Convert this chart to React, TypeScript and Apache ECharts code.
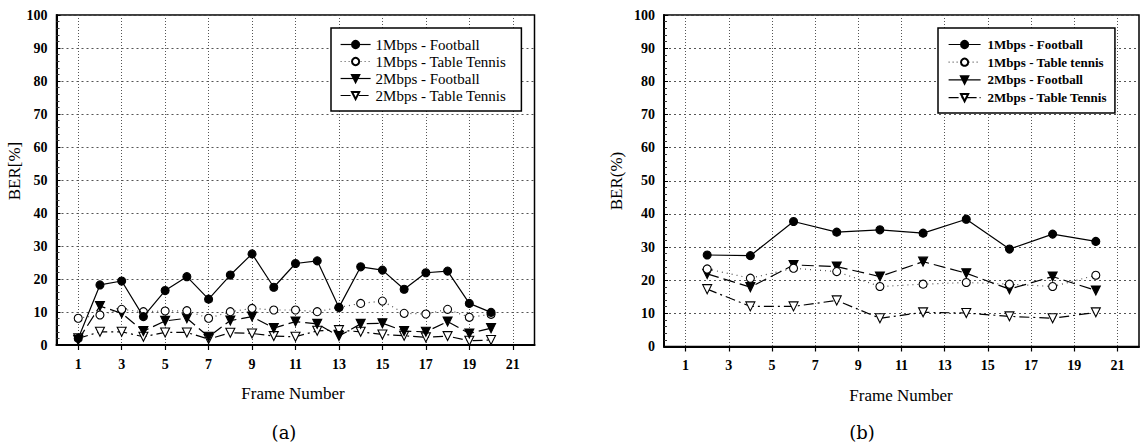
import React, { useEffect, useRef } from "react";
import * as echarts from "echarts";

// x-axis categories (frame numbers shown on axis range 0..22)
const xCategories = ["0","1","2","3","4","5","6","7","8","9","10","11","12","13","14","15","16","17","18","19","20","21","22"];

// Chart (a)
const framesA = [1,2,3,4,5,6,7,8,9,10,11,12,13,14,15,16,17,18,19,20];
const a1MbpsFootball = [2.0,18.2,19.4,8.6,16.5,20.7,13.9,21.2,27.6,17.5,24.7,25.5,11.4,23.7,22.7,16.9,21.9,22.4,12.6,9.9];
const a1MbpsTableTennis = [8.1,9.1,10.8,10.1,10.3,10.4,8.1,10.1,11.1,10.6,10.6,10.1,11.4,12.6,13.3,9.6,9.4,10.8,8.4,9.3];
const a2MbpsFootball = [1.5,11.8,9.6,4.2,7.3,8.1,2.5,7.4,8.6,5.1,7.1,6.4,2.7,6.4,6.6,4.2,4.0,7.1,3.5,5.1];
const a2MbpsTableTennis = [2.0,4.0,4.0,2.5,3.8,3.8,1.8,3.7,3.5,2.7,2.5,4.3,4.5,4.0,3.2,2.8,2.3,2.7,1.3,1.5];

// Chart (b)
const framesB = [2,4,6,8,10,12,14,16,18,20];
const b1MbpsFootball = [27.6,27.4,37.7,34.5,35.2,34.2,38.4,29.4,33.9,31.7];
const b1MbpsTableTennis = [23.4,20.6,23.6,22.6,18.1,18.8,19.3,18.8,18.1,21.5];
const b2MbpsFootball = [21.9,17.9,24.6,24.1,21.1,25.6,22.1,17.3,21.1,16.9];
const b2MbpsTableTennis = [17.3,12.1,12.1,13.9,8.5,10.3,10.1,9.1,8.5,10.3];

const namesA = ["1Mbps - Football", "1Mbps - Table Tennis", "2Mbps - Football", "2Mbps - Table Tennis"];
const namesB = ["1Mbps - Football", "1Mbps - Table tennis", "2Mbps - Football", "2Mbps - Table Tennis"];

const yTicks = [0, 10, 20, 30, 40, 50, 60, 70, 80, 90, 100];

const FONT = "'Liberation Serif', 'Times New Roman', Times, serif";

const pairs = (frames: number[], vals: number[]) => frames.map((f, i) => [String(f), vals[i]]);

const seriesStyles = [
  { symbol: "circle", rotate: 0, fill: "#000", line: "solid" as any, size: 8 },
  { symbol: "circle", rotate: 0, fill: "#fff", line: [1, 4] as any, size: 8 },
  { symbol: "triangle", rotate: 180, fill: "#000", line: [12, 5] as any, size: 9 },
  { symbol: "triangle", rotate: 180, fill: "#fff", line: [10, 4, 2, 4] as any, size: 9 },
];

function makeSeries(names: string[], frames: number[], data: number[][], gi: number) {
  return data.map((vals, k) => {
    const s = seriesStyles[k];
    return {
      name: names[k],
      type: "line",
      xAxisIndex: gi,
      yAxisIndex: gi,
      data: pairs(frames, vals),
      symbol: s.symbol,
      symbolRotate: s.rotate,
      symbolSize: s.size,
      z: 10 - k,
      lineStyle: { color: "#000", width: 1.2, type: s.line, opacity: k === 1 ? 0.7 : 1 },
      itemStyle: { color: s.fill, borderColor: "#000", borderWidth: 1.1 },
      emphasis: { disabled: true },
    };
  });
}

function xAxis(gi: number) {
  const odd = (idx: number) => idx % 2 === 1;
  return {
    type: "category",
    gridIndex: gi,
    data: xCategories,
    boundaryGap: false,
    axisLine: { onZero: false, lineStyle: { color: "#000", width: 2 } },
    axisTick: { show: true, interval: odd, length: 5, lineStyle: { color: "#000", width: 1.2 } },
    axisLabel: {
      interval: odd,
      margin: 12,
      color: "#000",
      fontFamily: FONT,
      fontWeight: "bold",
      fontSize: 14,
    },
    splitLine: {
      show: true,
      interval: (idx: number) => idx % 2 === 1 && idx !== 22,
      lineStyle: { color: "#555", width: 1, type: [1, 2] },
    },
  };
}

function yAxis(gi: number) {
  return {
    type: "value",
    gridIndex: gi,
    min: yTicks[0],
    max: yTicks[yTicks.length - 1],
    interval: 10,
    axisLine: { show: true, lineStyle: { color: "#000", width: 2 } },
    axisTick: { show: true, inside: true, length: 4, lineStyle: { color: "#000" } },
    minorTick: { show: true, splitNumber: 5, length: 3, lineStyle: { color: "#333" } },
    axisLabel: {
      margin: 9,
      color: "#000",
      fontFamily: FONT,
      fontWeight: "bold",
      fontSize: 14,
    },
    splitLine: {
      show: true,
      lineStyle: { color: "#555", width: 1, type: [2, 3] },
    },
  };
}

function legendData(names: string[]) {
  return names.map((n, k) => ({
    name: n,
    lineStyle: { type: k === 0 || k === 2 ? "solid" : k === 1 ? [1, 3] : [10, 3, 2, 3], color: "#000", width: 1.2 },
  }));
}

export default function App() {
  const ref = useRef<HTMLDivElement>(null);
  useEffect(() => {
    if (!ref.current) return;
    const chart = echarts.init(ref.current, undefined, { renderer: "svg" });
    const option: any = {
      animation: false,
      backgroundColor: "#fff",
      textStyle: { fontFamily: FONT },
      grid: [
        { left: 56.5, top: 15, width: 478, height: 330, show: true, borderColor: "#000", borderWidth: 1.5, backgroundColor: "transparent" },
        { left: 664, top: 15, width: 475, height: 331.5, show: true, borderColor: "#000", borderWidth: 1.5, backgroundColor: "transparent" },
      ],
      xAxis: [xAxis(0), xAxis(1)],
      yAxis: [yAxis(0), yAxis(1)],
      legend: [
        {
          left: 331, top: 28, orient: "vertical",
          data: legendData(namesA),
          backgroundColor: "#fff", borderColor: "#000", borderWidth: 1.5,
          padding: [9, 15, 8, 9], itemGap: 2, itemWidth: 30, itemHeight: 9,
          textStyle: { fontFamily: FONT, fontSize: 15, color: "#000" },
          selectedMode: false,
        },
        {
          left: 938, top: 28, orient: "vertical",
          data: legendData(namesB),
          backgroundColor: "#fff", borderColor: "#000", borderWidth: 1.5,
          padding: [10, 8, 9, 10], itemGap: 4.7, itemWidth: 32, itemHeight: 9,
          textStyle: { fontFamily: FONT, fontSize: 13, fontWeight: "bold", color: "#000", padding: [0, 0, 0, 2] },
          selectedMode: false,
        },
      ],
      series: [
        ...makeSeries(namesA, framesA, [a1MbpsFootball, a1MbpsTableTennis, a2MbpsFootball, a2MbpsTableTennis], 0),
        ...makeSeries(namesB, framesB, [b1MbpsFootball, b1MbpsTableTennis, b2MbpsFootball, b2MbpsTableTennis], 1),
      ],
      graphic: [
        { type: "text", x: 14, y: 171, rotation: Math.PI / 2, style: { text: "BER[%]", fontFamily: FONT, fontSize: 17, fill: "#000", align: "center", verticalAlign: "middle" } },
        { type: "text", x: 616, y: 181, rotation: Math.PI / 2, style: { text: "BER(%)", fontFamily: FONT, fontSize: 17, fill: "#000", align: "center", verticalAlign: "middle" } },
        { type: "text", x: 293, y: 393, style: { text: "Frame Number", fontFamily: FONT, fontSize: 17, fill: "#000", align: "center", verticalAlign: "middle" } },
        { type: "text", x: 901, y: 395, style: { text: "Frame Number", fontFamily: FONT, fontSize: 17, fill: "#000", align: "center", verticalAlign: "middle" } },
        { type: "text", x: 284, y: 432, style: { text: "(a)", fontFamily: "'DejaVu Serif', serif", fontSize: 18, fill: "#000", align: "center", verticalAlign: "middle" } },
        { type: "text", x: 862, y: 432, style: { text: "(b)", fontFamily: "'DejaVu Serif', serif", fontSize: 18, fill: "#000", align: "center", verticalAlign: "middle" } },
      ],
    };
    chart.setOption(option);
    return () => chart.dispose();
  }, []);
  return <div ref={ref} style={{ position: "absolute", left: 0, top: 0, width: 1144, height: 443 }} />;
}
